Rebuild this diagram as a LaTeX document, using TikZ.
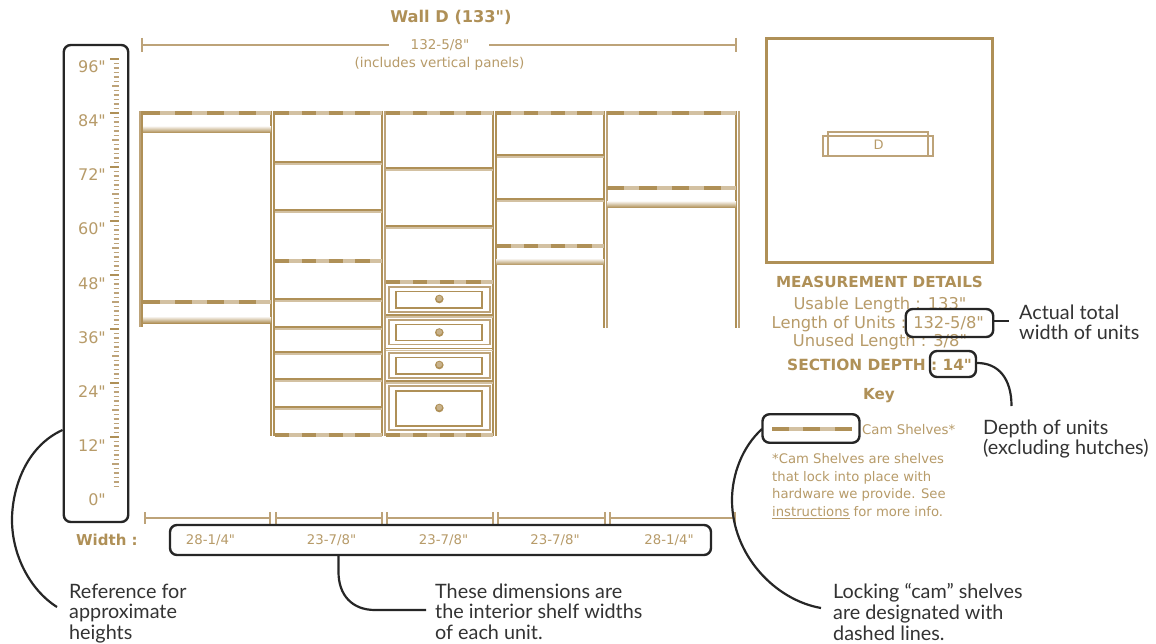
\documentclass[tikz,border=0pt]{standalone}
\usepackage{fontspec}
\setmainfont{DejaVu Sans}[Ligatures=TeXOff]
\newfontfamily\callfont{Lato}
\usetikzlibrary{calc}
\definecolor{tandark}{HTML}{AF9057}
\definecolor{tanmid}{HTML}{BDA379}
\definecolor{tanlight}{HTML}{D3C1A2}
\definecolor{tantext}{HTML}{B79B69}
\definecolor{inkblack}{HTML}{262626}
\definecolor{callink}{HTML}{333333}
\newcommand{\fs}[1]{\fontsize{#1}{#1}\selectfont}
\tikzset{
  x=1pt,y=-1pt,
  camlight/.style={tanlight,line width=3.6pt},
  camdark/.style={tandark,line width=3.6pt},
  paneldark/.style={tandark,line width=1.9pt},
  panelmid/.style={tanmid,line width=1.8pt},
  shelfdark/.style={tandark,line width=1.6pt},
  shelflight/.style={tanlight,line width=1.6pt},
  drawerframe/.style={tanmid,line width=1.6pt},
  dimline/.style={tanmid,line width=1.2pt},
  callbox/.style={draw=inkblack,line width=2.4pt,rounded corners=7pt,inner sep=0pt,fill=none},
  lead/.style={draw=inkblack,line width=2.2pt},
  tantxt/.style={text=tantext,inner sep=0pt},
  tanbold/.style={text=tandark,inner sep=0pt,font=\bfseries\fs{15.2}},
  calltxt/.style={text=callink,inner sep=0pt,anchor=north west,align=left,font=\callfont\fontsize{19.8}{20.6}\selectfont},
}
\newcommand{\camshelf}[3]{%
  \draw[camlight] (#1,#3) -- (#2,#3);
  \pgfmathsetmacro\per{(#2-#1)/4}
  \foreach \k in {0,1,2,3}{\draw[camdark] ({#1+\k*\per},#3) -- ({#1+\k*\per+0.54*\per},#3);}
}
\newcommand{\fixedshelf}[3]{%
  \draw[shelfdark] (#1,#3) -- (#2,#3);
  \draw[shelflight] (#1,#3+2) -- (#2,#3+2);
}
\newcommand{\rod}[3]{%
  \shade[top color=tanlight!35,bottom color=tandark] (#1,#3-3) rectangle (#2,#3+2.5);
}
\newcommand{\drawerunit}[5]{% outer y1,y2, inner y1,y2, knob y
  \draw[drawerframe] (389,#1) rectangle (490,#2);
  \draw[drawerframe,tandark] (396,#3) rectangle (482,#4);
  \fill[tandark] (439.3,#5) circle (4.3pt);
  \fill[tanlight!70!tandark] (439.3,#5-0.5) circle (2.8pt);
}
\begin{document}
\begin{tikzpicture}
\useasboundingbox (0,0) rectangle (1156,644);
\fill[white] (0,0) rectangle (1156,644);

% title and overall dimension
\node[tanbold,font=\bfseries\fs{16.2}] (title) at (451,17) {Wall D (133")};
\draw[dimline] (142,38) -- (142,52);
\draw[dimline] (736,38) -- (736,52);
\draw[dimline] (142,45) -- (389,45);
\draw[dimline] (489,45) -- (736,45);
\node[tantxt,font=\fs{13.5}] (total) at (440,45) {132-5/8"};
\node[tantxt,font=\fs{13.5}] (incl) at (439.5,64) {(includes vertical panels)};

% ruler
\foreach \i in {0,...,95}{
  \pgfmathsetmacro\yy{59+4.5*\i}
  \pgfmathtruncatemacro\mm{mod(\i,12)}
  \pgfmathtruncatemacro\hh{mod(\i,6)}
  \ifnum\mm=0
    \draw[tandark,line width=2.4pt] (110,\yy) -- (119,\yy);
  \else\ifnum\hh=0
    \draw[tanmid,line width=1.2pt] (112,\yy) -- (119,\yy);
  \else
    \draw[tanmid,line width=1.2pt] (113.5,\yy) -- (119,\yy);
  \fi\fi
}
\foreach \lab/\yy in {96/67,84/121,72/175,60/229,48/284,36/338,24/392,12/446,0/500}{
  \node[tantxt,anchor=east,font=\fs{16}] (h\lab) at (106,\yy) {\lab"};
}

% cabinet panels
\foreach \xx/\yb in {142.3/327,271/436,274.2/436,382.3/436,493/436,496/436,604/328,736/328}{
  \draw[paneldark] (\xx,111) -- (\xx,\yb);
}
\foreach \xx/\yb in {140/327,385/436,607/328,739/328}{
  \draw[panelmid] (\xx,111) -- (\xx,\yb);
}

% cam shelves
\camshelf{143}{271}{113}
\camshelf{275}{382}{113}
\camshelf{386}{493}{113}
\camshelf{497}{604}{113}
\camshelf{607}{736}{113}
\camshelf{143}{271}{302}
\camshelf{275}{382}{261}
\camshelf{386}{493}{282}
\camshelf{275}{382}{435}
\camshelf{386}{493}{435}
\camshelf{497}{604}{246}
\camshelf{607}{736}{188}

% hanging rods
\rod{143}{271}{130}
\rod{143}{271}{320.5}
\rod{496}{604}{262.5}
\rod{607}{736}{205}

% fixed shelves
\foreach \yy in {162,210,299,327,352,379,407}{\fixedshelf{275}{382}{\yy}}
\foreach \yy in {168,226,315,348.5,381}{\fixedshelf{386}{493}{\yy}}
\foreach \yy in {155,199}{\fixedshelf{497}{604}{\yy}}

% drawers
\drawerunit{287}{312}{291.5}{308}{299}
\drawerunit{320}{344.5}{324.5}{340.5}{332.5}
\drawerunit{353}{378}{357.5}{374}{365}
\drawerunit{386}{430}{391}{426}{408}

% width dimension
\foreach \xa/\xb in {145/270,276/382,387/493,498/605,610/735}{
  \draw[dimline] (\xa,518) -- (\xb,518);
  \draw[dimline] (\xa,512) -- (\xa,524);
  \draw[dimline] (\xb,512) -- (\xb,524);
}
\node[tanbold,anchor=west,font=\bfseries\fs{15}] (width) at (76,540) {Width :};
\foreach \lab/\xx in {28-1\slash 4"/210.5,23-7\slash 8"/331.5,23-7\slash 8"/443.5,23-7\slash 8"/555,28-1\slash 4"/669}{
  \node[tantxt,font=\fs{13.3}] at (\xx,540) {\lab};
}

% location plan
\draw[tandark,line width=3pt] (766,39) rectangle (992,263);
\draw[tanmid,line width=1.4pt] (823,136) rectangle (933,156);
\draw[tanmid,line width=1.4pt] (828,132) rectangle (928,156);
\node[tantxt,font=\fs{13}] (d) at (878.5,145) {D};

% measurement details
\node[tanbold] (md) at (879.5,281.5) {MEASUREMENT DETAILS};
\node[tantxt,font=\fs{16.3}] (usable) at (880,305.5) {Usable Length : 133"};
\node[tantxt,anchor=west,font=\fs{16.3}] (units) at (771.5,324) {Length of Units : 132-5/8"};
\node[tantxt,font=\fs{16.3}] (unused) at (880,342.5) {Unused Length : 3/8"};
\node[tanbold,anchor=west,font=\bfseries\fs{15.4}] (depth) at (787,364.5) {SECTION DEPTH : 14"};
\node[tanbold] (key) at (879,395.5) {Key};

% key
\draw[camlight] (772,429) -- (852,429);
\foreach \xa/\xb in {772/789,803/820,835/852}{\draw[camdark] (\xa,429) -- (\xb,429);}
\node[tantxt,anchor=west,font=\fs{13.3}] (camkey) at (862,429.5) {Cam Shelves*};
\node[tantxt,anchor=north west,align=left,font=\fontsize{13.2}{17.5}\selectfont] (para) at (772,453.5)
  {*Cam Shelves are shelves\\that lock into place with\\hardware we provide. See\\\underline{instructions} for more info.};

% callout boxes
\node[callbox,minimum width=64.5pt,minimum height=477pt] (ruler) at (96,283.5) {};
\node[callbox,minimum width=541pt,minimum height=30pt] (wbox) at (440.5,540) {};
\node[callbox,minimum width=87.5pt,minimum height=28pt] (ubox) at (949.5,323) {};
\node[callbox,minimum width=46pt,minimum height=26pt] (dbox) at (953,364) {};
\node[callbox,minimum width=97pt,minimum height=28.5pt] (kbox) at (811,428.5) {};

% callout texts
\node[calltxt] (tref) at (69,583.5) {Reference for\\approximate\\heights};
\node[calltxt] (tdim) at (435,583.5) {These dimensions are\\the interior shelf widths\\of each unit.};
\node[calltxt] (tcam) at (833,583.5) {Locking “cam” shelves\\are designated with\\dashed lines.};
\node[calltxt] (tact) at (1019,304.5) {Actual total\\width of units};
\node[calltxt] (tdep) at (983,419.5) {Depth of units\\(excluding hutches)};

% leaders
\coordinate (refstart) at (63,430);
\coordinate (refa) at (12,520);
\coordinate (refend) at (57,607);
\draw[lead] (ruler.west |- refstart) .. controls (25,447) and (12,490) .. (refa) .. controls (12,555) and (30,590) .. (refend);
\coordinate (dimstart) at (338.5,555);
\coordinate (dimend) at (426,610);
\draw[lead] (wbox.south -| dimstart) -- (338.5,572) .. controls (338.5,595) and (352,610) .. (375,610) -- (dimend);
\coordinate (camstart) at (762,429);
\coordinate (cama) at (732,500);
\coordinate (camend) at (821,608);
\draw[lead] (camstart) .. controls (742,447) and (732,475) .. (cama) .. controls (732,555) and (775,600) .. (camend);
\coordinate (actend) at (1009,321);
\draw[lead] (ubox.east |- actend) -- (actend);
\coordinate (depstart) at (976,363);
\coordinate (depend) at (1011.5,406);
\draw[lead] (dbox.east |- depstart) .. controls (998,363) and (1011.5,378) .. (depend);
\end{tikzpicture}
\end{document}
